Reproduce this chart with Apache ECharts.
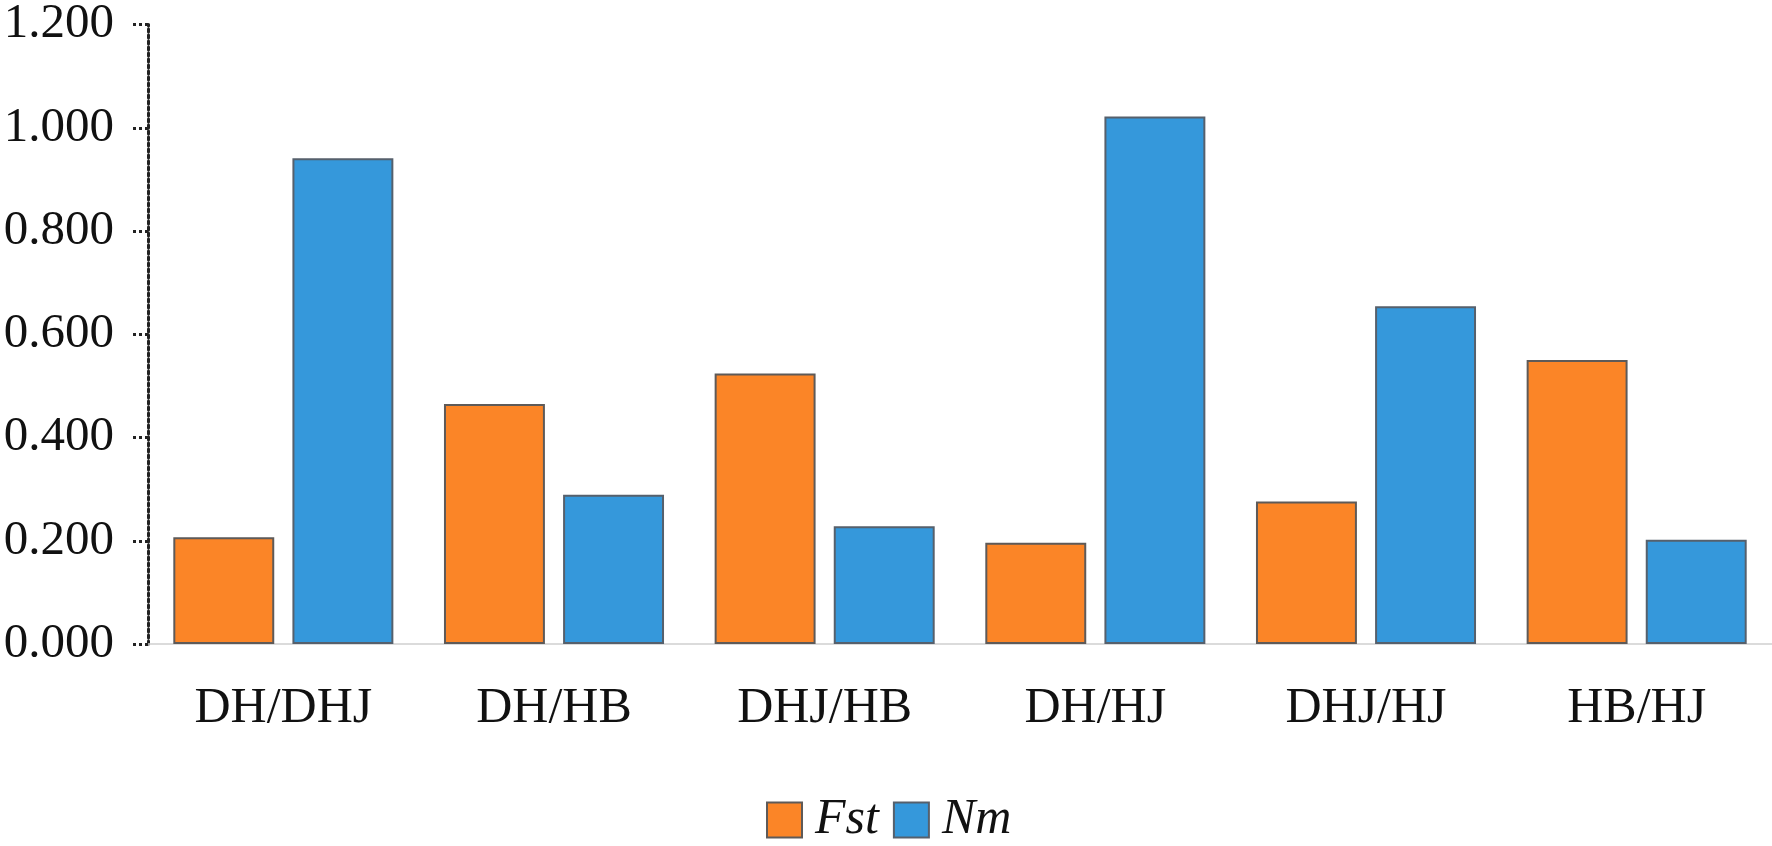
<!DOCTYPE html>
<html>
<head>
<meta charset="utf-8">
<style>html,body{margin:0;padding:0;background:#fff;}#c{width:1772px;height:846px;}</style>
<script src="https://cdn.jsdelivr.net/npm/echarts@6/dist/echarts.min.js"></script>
</head>
<body>
<div id="c"></div>
<script>
const categories = ['DH/DHJ', 'DH/HB', 'DHJ/HB', 'DH/HJ', 'DHJ/HJ', 'HB/HJ'];
const fstValues = [0.207, 0.465, 0.524, 0.196, 0.276, 0.550];
const nmValues = [0.941, 0.289, 0.228, 1.022, 0.654, 0.202];
const seriesNames = ['Fst', 'Nm'];

const font = 'Liberation Serif, Times New Roman, serif';
const chart = echarts.init(document.getElementById('c'));
chart.setOption({
  animation: false,
  backgroundColor: '#ffffff',
  grid: { left: 148, right: 0, top: 19, bottom: 202, containLabel: false },
  legend: {
    top: 790, left: 761,
    icon: 'rect',
    itemWidth: 35, itemHeight: 35, itemGap: 14,
    textStyle: { fontFamily: font, fontSize: 50, fontStyle: 'italic', color: '#111', padding: [0, 0, 0, 8] },
    data: seriesNames
  },
  xAxis: {
    type: 'category', data: categories,
    axisLine: { lineStyle: { color: '#d0d0d0', width: 1.5 } },
    axisTick: { show: false },
    axisLabel: { fontFamily: font, fontSize: 50, color: '#111', margin: 40 }
  },
  yAxis: {
    type: 'value', min: 0, max: 1.2, interval: 0.2,
    axisLine: { show: true, lineStyle: { color: '#222', width: 3, type: [3, 3] } },
    axisTick: { show: true, length: 15, lineStyle: { color: '#222', width: 3, type: [3, 3] } },
    splitLine: { show: false },
    axisLabel: { fontFamily: font, fontSize: 49, color: '#111', margin: 34,
      formatter: v => v.toFixed(3) }
  },
  series: [
    { name: seriesNames[0], type: 'bar', data: fstValues, barGap: '18%', barCategoryGap: '18.7%',
      itemStyle: { color: '#FB8527', borderColor: '#5e5a58', borderWidth: 2 } },
    { name: seriesNames[1], type: 'bar', data: nmValues,
      itemStyle: { color: '#3598DB', borderColor: '#56606c', borderWidth: 2 } }
  ]
});
</script>
</body>
</html>
